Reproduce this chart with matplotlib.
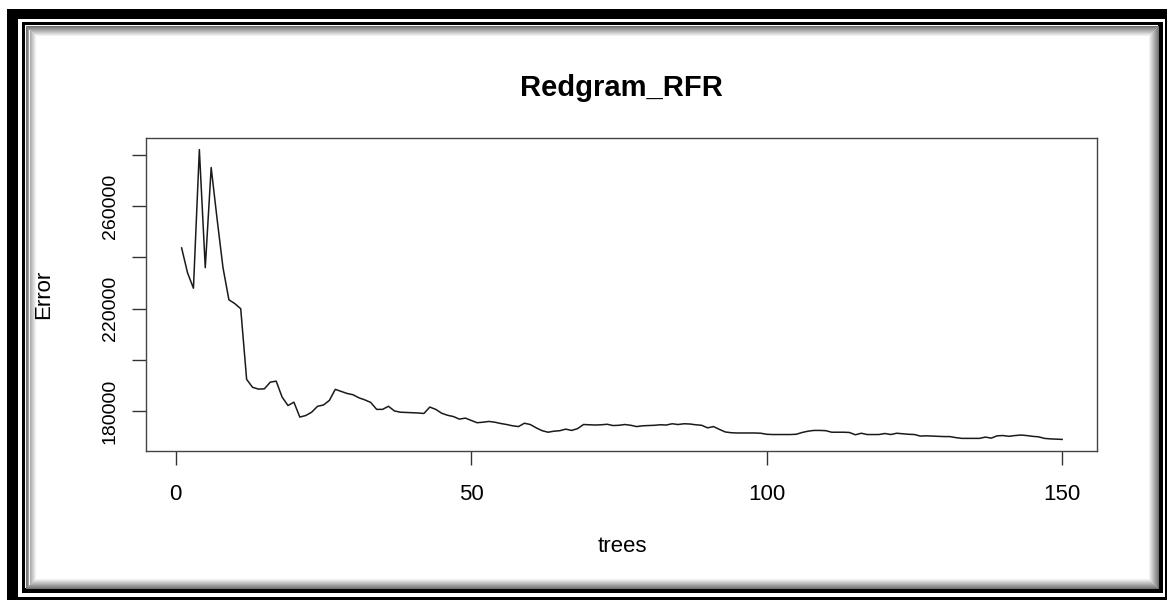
import numpy as np
import matplotlib
matplotlib.use('Agg')
import matplotlib.pyplot as plt
from matplotlib.patches import Rectangle

# Datos: error OOB del random forest por número de árboles
trees = np.arange(1, 151)
error = [
    243700, 234000, 228000, 282000, 236000, 275000, 255000, 236000, 223500, 222000,
    220000, 192500, 189400, 188700, 188800, 191400, 191800, 185600, 182300, 183600,
    177800, 178400, 179700, 182000, 182500, 184300, 188600, 187800, 187000, 186500,
    185300, 184500, 183500, 180800, 180800, 182000, 180200, 179700, 179600, 179500,
    179400, 179200, 181700, 180800, 179300, 178500, 178000, 177000, 177400, 176500,
    175600, 175800, 176100, 175800, 175300, 174900, 174400, 174100, 175400, 174900,
    173600, 172500, 171900, 172300, 172500, 173100, 172600, 173300, 174900, 174800,
    174700, 174800, 175000, 174500, 174600, 174900, 174600, 174100, 174400, 174500,
    174600, 174800, 174700, 175200, 174900, 175200, 175100, 174800, 174600, 173600,
    174100, 173000, 172000, 171700, 171600, 171600, 171600, 171600, 171500, 171100,
    171000, 171000, 171000, 171000, 171100, 171800, 172300, 172600, 172600, 172500,
    171900, 171900, 171900, 171800, 170900, 171500, 171000, 171000, 171000, 171400,
    171000, 171500, 171300, 171100, 171000, 170400, 170500, 170400, 170300, 170200,
    170200, 169800, 169500, 169500, 169500, 169500, 170000, 169600, 170500, 170600,
    170300, 170600, 170800, 170600, 170300, 170100, 169500, 169300, 169200, 169100,
]
yticks = [180000, 200000, 220000, 240000, 260000, 280000]
ytick_labels = ['180000', '', '220000', '', '260000', '']
xticks = [0, 50, 100, 150]

plt.rcParams['font.family'] = ['Liberation Sans', 'DejaVu Sans']

W, H = 1167, 600
fig = plt.figure(figsize=(W / 100, H / 100), dpi=100)


def caja(x0, y0, x1, y1, color, z=0, fill=True, lw=0):
    # coordenadas en pixeles con origen arriba a la izquierda
    r = Rectangle((x0 / W, 1 - y1 / H), (x1 - x0) / W, (y1 - y0) / H,
                  transform=fig.transFigure, facecolor=color if fill else 'none',
                  edgecolor=color if not fill else 'none', linewidth=lw, zorder=z)
    fig.patches.append(r)


# marco exterior negro, hueco blanco, linea interior y sombra
caja(7, 9, 1167, 600, 'black', z=0)
caja(18, 19, 1165, 597, 'white', z=1)
caja(22, 22, 1163, 593, 'black', z=2)
caja(25, 25, 1158, 588, 'white', z=3)
for i in range(10):
    g = 0.45 + 0.055 * i
    caja(25 + i + 0.5, 25 + i + 0.5, 1158 - i - 0.5, 588 - i - 0.5, str(min(g, 1.0)),
         z=4 + i, fill=False, lw=0.75)

ax = fig.add_axes([146.4 / W, 1 - 451 / H, (1097.4 - 146.4) / W, (451 - 138) / H])
ax.set_zorder(20)
ax.plot(trees, error, color='#1a1a1a', linewidth=1.1)
ax.margins(x=0.04, y=0.04)

ax.set_xticks(xticks)
ax.set_yticks(yticks)
ax.set_yticklabels(ytick_labels, rotation=90, va='center')
ax.tick_params(axis='x', length=10, width=1, pad=14, labelsize=16, color='#333333')
ax.tick_params(axis='y', length=10, width=1, pad=10, labelsize=14, color='#333333')
for s in ax.spines.values():
    s.set_color('#444444')
    s.set_linewidth(1.0)

ax.set_title('Redgram_RFR', fontsize=21, fontweight='bold', pad=30)
ax.set_xlabel('trees', fontsize=16, labelpad=22)
ax.set_ylabel('Error', fontsize=16, labelpad=34)

fig.savefig('out.png', dpi=100)
